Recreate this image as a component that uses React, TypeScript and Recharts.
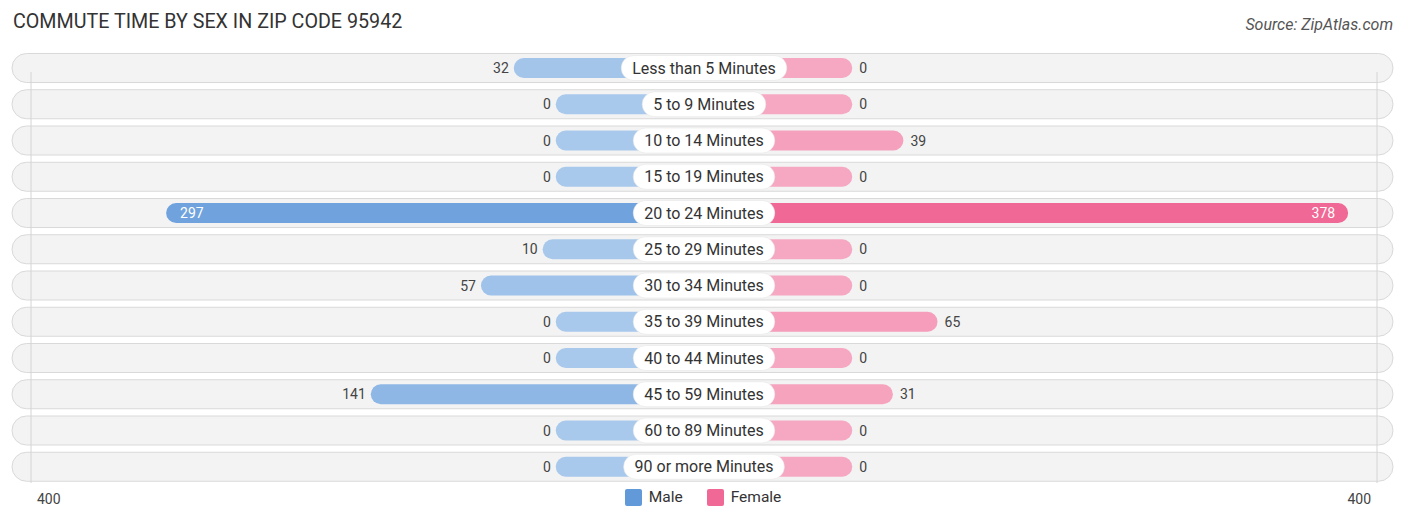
import React from 'react';
import {
  BarChart,
  Bar,
  XAxis,
  YAxis,
  LabelList,
  ReferenceLine,
  Cell,
} from 'recharts';

const categories = [
  'Less than 5 Minutes',
  '5 to 9 Minutes',
  '10 to 14 Minutes',
  '15 to 19 Minutes',
  '20 to 24 Minutes',
  '25 to 29 Minutes',
  '30 to 34 Minutes',
  '35 to 39 Minutes',
  '40 to 44 Minutes',
  '45 to 59 Minutes',
  '60 to 89 Minutes',
  '90 or more Minutes',
];
const maleValues = [32, 0, 0, 0, 297, 10, 57, 0, 0, 141, 0, 0];
const femaleValues = [0, 0, 39, 0, 378, 0, 0, 65, 0, 31, 0, 0];
const axisMax = 400;
const legendItems = ['Male', 'Female'];

// room for the category pill in the middle, in value units
const PAD = 113;
const EDGE = axisMax + PAD;

const data = categories.map((cat, i) => ({
  cat,
  male: maleValues[i],
  female: femaleValues[i],
}));

const topValue = Math.max(...maleValues, ...femaleValues);

function mix(a: number[], b: number[], t: number) {
  const c = a.map((v, i) => Math.round(v + (b[i] - v) * t));
  return `rgb(${c[0]},${c[1]},${c[2]})`;
}
const maleLight = [169, 201, 236];
const maleStrong = [97, 153, 217];
const femaleLight = [246, 168, 194];
const femaleStrong = [240, 104, 149];

const maleColor = (v: number) => mix(maleLight, maleStrong, Math.min(1, v / topValue));
const femaleColor = (v: number) => mix(femaleLight, femaleStrong, Math.min(1, v / topValue));

let ctx: CanvasRenderingContext2D | null = null;
function textWidth(s: string, font: string) {
  try {
    if (!ctx) ctx = document.createElement('canvas').getContext('2d');
    if (ctx) {
      ctx.font = font;
      return ctx.measureText(s).width;
    }
  } catch (e) {}
  return s.length * 8;
}

const FONT = 'Roboto, "Noto Sans", sans-serif';

function RowBackground(props: any) {
  const { x, y, width, height } = props;
  const cy = y + height / 2;
  return (
    <rect
      x={x - 19}
      y={cy - 14.5}
      width={width + 35}
      height={29}
      rx={14.5}
      fill="#f3f3f3"
      stroke="#d9d9d9"
      strokeWidth={1}
    />
  );
}

function MaleValue(props: any) {
  const { x, y, width, height, value } = props;
  const left = Math.min(x, x + width);
  const cy = y + height / 2;
  const inside = value / topValue > 0.6;
  return (
    <text
      x={inside ? left + 14 : left - 5}
      y={cy}
      dy={5}
      textAnchor={inside ? 'start' : 'end'}
      fill={inside ? '#ffffff' : '#444444'}
      fontSize={14}
      fontFamily={FONT}
    >
      {value}
    </text>
  );
}

function FemaleValue(props: any) {
  const { x, y, width, height, value } = props;
  const right = Math.max(x, x + width);
  const cy = y + height / 2;
  const inside = value / topValue > 0.6;
  return (
    <text
      x={inside ? right - 13 : right + 7}
      y={cy}
      dy={5}
      textAnchor={inside ? 'end' : 'start'}
      fill={inside ? '#ffffff' : '#444444'}
      fontSize={14}
      fontFamily={FONT}
    >
      {value}
    </text>
  );
}

function CategoryPill(props: any) {
  const { x, width, y, height, value } = props;
  const cx = Math.min(x, x + width);
  const cy = y + height / 2;
  const w = textWidth(String(value), `16px ${FONT}`) + 22;
  return (
    <g>
      <rect
        x={cx - w / 2}
        y={cy - 12.5}
        width={w}
        height={25}
        rx={12.5}
        fill="#ffffff"
        stroke="#e2e2e2"
        strokeWidth={0.5}
      />
      <text
        x={cx}
        y={cy}
        dy={5.5}
        textAnchor="middle"
        fill="#333333"
        fontSize={16}
        fontFamily={FONT}
      >
        {value}
      </text>
    </g>
  );
}

function AxisTick(props: any) {
  const { x, payload } = props;
  const left = payload.value < 0;
  return (
    <text
      x={left ? x + 6 : x - 6}
      y={504}
      textAnchor={left ? 'start' : 'end'}
      fill="#444444"
      fontSize={14}
      fontFamily={FONT}
    >
      {axisMax}
    </text>
  );
}

function GridLine(props: any) {
  const { x1, y1, x2, y2 } = props;
  return <line x1={x1} y1={y1 - 2} x2={x2} y2={y2 + 22} stroke="#d4d4d4" strokeWidth={1} />;
}

export default function App() {
  const swatch = ['#6199d9', '#f06895'];
  return (
    <div style={{ position: 'absolute', left: 0, top: 0, width: 1406, height: 523, background: '#fff' }}>
      <div
        style={{
          position: 'absolute',
          left: 13,
          top: 10,
          fontSize: 19.7,
          color: '#333',
          fontFamily: FONT,
          whiteSpace: 'nowrap',
        }}
      >
        COMMUTE TIME BY SEX IN ZIP CODE 95942
      </div>
      <div
        style={{
          position: 'absolute',
          right: 13,
          top: 15,
          fontSize: 16,
          color: '#555',
          fontStyle: 'italic',
          fontFamily: FONT,
          whiteSpace: 'nowrap',
        }}
      >
        Source: ZipAtlas.com
      </div>
      <BarChart
        width={1406}
        height={523}
        data={data}
        layout="vertical"
        stackOffset="sign"
        barSize={20}
        margin={{ top: 50, right: 29, bottom: 0, left: 31 }}
      >
        <XAxis
          type="number"
          domain={[-EDGE, EDGE]}
          ticks={[-EDGE, EDGE]}
          axisLine={false}
          tickLine={false}
          tick={<AxisTick />}
          height={38}
        />
        <YAxis type="category" dataKey="cat" hide width={0} />
        <Bar
          dataKey={(d: any) => -(d.male + PAD)}
          stackId="s"
          radius={10}
          background={<RowBackground />}
          isAnimationActive={false}
        >
          {data.map((d, i) => (
            <Cell key={`m-${i}`} fill={maleColor(d.male)} />
          ))}
          <LabelList dataKey="male" content={<MaleValue />} />
        </Bar>
        <ReferenceLine x={-EDGE} shape={<GridLine />} />
        <ReferenceLine x={EDGE} shape={<GridLine />} />
        <Bar
          dataKey={(d: any) => d.female + PAD}
          stackId="s"
          radius={10}
          isAnimationActive={false}
        >
          {data.map((d, i) => (
            <Cell key={`f-${i}`} fill={femaleColor(d.female)} />
          ))}
          <LabelList dataKey="female" content={<FemaleValue />} />
          <LabelList dataKey="cat" content={<CategoryPill />} />
        </Bar>
      </BarChart>
      <div
        style={{
          position: 'absolute',
          top: 488,
          left: 0,
          width: 1406,
          display: 'flex',
          justifyContent: 'center',
        }}
      >
        {legendItems.map((label, i) => (
          <span
            key={label}
            style={{ display: 'inline-flex', alignItems: 'center', margin: '0 12px' }}
          >
            <span
              style={{
                display: 'inline-block',
                width: 17,
                height: 17,
                background: swatch[i],
                borderRadius: 2,
                marginRight: 7,
              }}
            />
            <span style={{ fontSize: 15.5, color: '#333', fontFamily: FONT }}>{label}</span>
          </span>
        ))}
      </div>
    </div>
  );
}
